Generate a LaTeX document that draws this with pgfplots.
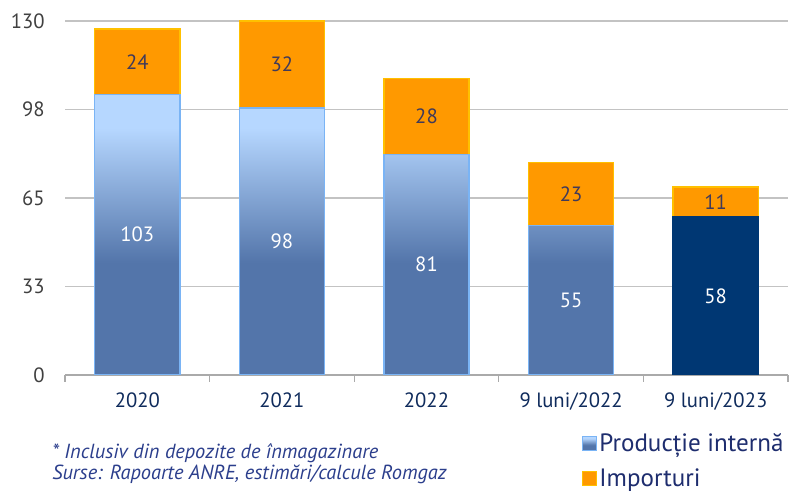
\documentclass[border=0pt]{standalone}
\usepackage{fontspec}
\setmainfont{PT Sans}
\usepackage{pgfplots}
\pgfplotsset{compat=1.18}
\usepackage{pgfplotstable}

\definecolor{plight}{RGB}{182,215,255}
\definecolor{pdark}{RGB}{83,117,170}
\definecolor{pborder}{RGB}{122,180,245}
\definecolor{impfill}{RGB}{255,153,0}
\definecolor{impborder}{RGB}{255,192,0}
\definecolor{navy}{RGB}{0,55,115}
\definecolor{gridgray}{RGB}{195,195,195}
\definecolor{axisgray}{RGB}{170,170,170}
\definecolor{ticktext}{RGB}{64,64,64}
\definecolor{cattext}{RGB}{15,43,92}
\definecolor{notetext}{RGB}{43,62,140}
\definecolor{legtext}{RGB}{30,45,110}
\definecolor{implabel}{RGB}{64,58,90}

\pgfdeclareverticalshading{prodshade}{100bp}{color(0bp)=(pdark); color(45bp)=(pdark); color(69bp)=(plight); color(100bp)=(plight)}

\pgfplotstableread{
x prod imp
0 103 24
1 98 32
2 81 28
3 55 23
4 58 11
}\datatable

\pgfplotstableread{
x prod
4 58
}\navytable

\newcommand\yu{2.04231pt}

\pgfplotsset{
  commonaxis/.style={
    at={(48.75pt,87.75pt)}, anchor=south west,
    width=542.25pt, height=265.5pt, scale only axis,
    xmin=-0.5, xmax=4.5, ymin=0, ymax=130,
    bar width=0.59,
  },
  calcseg/.code={\pgfkeys{/pgf/fpu=true,/pgf/fpu/output format=fixed}\pgfmathsetmacro\segval{0.5*\pgfplotspointmeta}\pgfkeys{/pgf/fpu=false}},
  barlabel/.style={
    nodes near coords={\pgfmathprintnumber[assume math mode=true]{\pgfplotspointmeta}},
    point meta=explicit,
    every node near coord/.append style={anchor=center, font=\fontsize{15.5}{18}\selectfont},
  },
}

\begin{document}
\begin{tikzpicture}[x=1pt,y=1pt]
\useasboundingbox (0,0) rectangle (591.75,369);
\begin{axis}[
  commonaxis,
  ybar stacked,
  xtick={0,1,2,3,4}, xticklabels={2020,2021,2022,9 luni/2022,9 luni/2023},
  minor xtick={-0.5,0.5,1.5,2.5,3.5,4.5},
  ytick={0,32.5,65,97.5,130}, yticklabels={0,33,65,98,130},
  major tick length=0pt, minor tick length=5pt, tick align=outside,
  minor x tick style={draw=axisgray, line width=1pt},
  hide obscured x ticks=false,
  axis x line*=bottom, axis y line*=left,
  y axis line style={draw=none},
  x axis line style={draw=axisgray, line width=1.2pt, -},
  ymajorgrids, grid style={gridgray, line width=1.2pt},
  /pgf/number format/assume math mode=true,
  xticklabel style={anchor=north, inner sep=0pt, yshift=-13.5pt, text=cattext, font=\fontsize{15.5}{18}\selectfont},
  yticklabel style={anchor=east, inner sep=0pt, xshift=-15pt, text=ticktext, font=\fontsize{15.5}{18}\selectfont},
  legend style={at={(axis description cs:0.715,-0.158)}, anchor=north west, draw=none, fill=none,
    inner sep=0pt, outer sep=0pt, font=\fontsize{18.8}{22}\selectfont, text=legtext,
    row sep=7pt, /tikz/every even column/.append style={column sep=0pt}},
  legend cell align=left,
]
\addplot[forget plot, shading=prodshade, draw=pborder, line width=1pt, barlabel,
  every node near coord/.append style={text=white}]
  table[x=x, y=prod, meta=prod] {\datatable};
\addplot[forget plot, fill=impfill, draw=impborder, line width=1pt, barlabel,
  every node near coord/.append style={text=implabel}]
  table[x=x, y=imp, meta=imp] {\datatable};
\addlegendimage{legend image code/.code={\draw[shading=prodshade, draw=pborder, line width=0.6pt] (0pt,-5.25pt) rectangle (10.5pt,5.25pt);}}
\addlegendentry{Producție internă}
\addlegendimage{legend image code/.code={\draw[fill=impfill, draw=impborder, line width=0.6pt] (0pt,-5.25pt) rectangle (10.5pt,5.25pt);}}
\addlegendentry{Importuri}
\end{axis}
\begin{axis}[
  commonaxis,
  ybar, hide axis,
]
\addplot[fill=navy, draw=navy, line width=1pt, barlabel,
  every node near coord/.append style={text=white, /pgfplots/calcseg, yshift={-\segval*\yu}}]
  table[x=x, y=prod, meta=prod] {\navytable};
\end{axis}
\node[anchor=base west, inner sep=0pt, text=notetext, font=\itshape\fontsize{15.3}{18}\selectfont] at (39,24.75) {* Inclusiv din depozite de înmagazinare};
\node[anchor=base west, inner sep=0pt, text=notetext, font=\itshape\fontsize{15.3}{18}\selectfont] at (39,9) {Surse: Rapoarte ANRE, estimări/calcule Romgaz};
\end{tikzpicture}
\end{document}
